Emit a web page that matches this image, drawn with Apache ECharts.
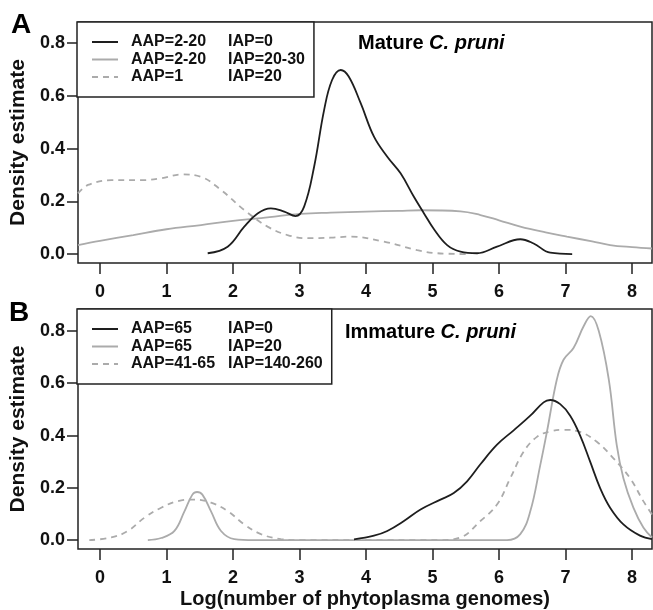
<!DOCTYPE html>
<html><head><meta charset="utf-8">
<script src="https://cdn.jsdelivr.net/npm/echarts@6/dist/echarts.min.js"></script>
<style>html,body{margin:0;padding:0;background:#fff}#c{width:653px;height:610px}</style>
</head><body><div id="c"></div>
<script>
// Panel A: Mature C. pruni
const namesA = ['AAP=2-20|IAP=0', 'AAP=2-20|IAP=20-30', 'AAP=1|IAP=20'];
const xA1 = [1.62,1.92,2.17,2.37,2.57,2.77,2.94,3.07,3.22,3.37,3.49,3.62,3.74,3.92,4.12,4.32,4.52,4.72,4.87,5.02,5.22,5.42,5.67,5.97,6.32,6.52,6.77,7.1];
const yA1 = [0.003,0.028,0.104,0.154,0.173,0.161,0.144,0.18,0.331,0.546,0.66,0.698,0.673,0.572,0.445,0.369,0.306,0.217,0.155,0.095,0.034,0.009,0.003,0.028,0.056,0.04,0.005,0];
const xA2 = [-0.33,0,0.5,1,1.52,2,2.37,3.02,3.47,4,4.5,4.82,5.42,5.72,6,6.32,6.7,7.02,7.4,7.67,8,8.3];
const yA2 = [0.034,0.05,0.072,0.094,0.11,0.126,0.135,0.152,0.157,0.161,0.164,0.166,0.162,0.148,0.128,0.104,0.082,0.066,0.048,0.034,0.026,0.021];
const xA3 = [-0.33,-0.18,0.17,0.62,0.92,1.24,1.52,1.82,2.17,2.52,2.82,3.12,3.47,3.77,4.27,4.77,5.07,5.5];
const yA3 = [0.23,0.262,0.28,0.28,0.287,0.302,0.293,0.243,0.167,0.104,0.072,0.06,0.062,0.066,0.047,0.015,0.003,0];

// Panel B: Immature C. pruni
const namesB = ['AAP=65|IAP=0', 'AAP=65|IAP=20', 'AAP=41-65|IAP=140-260'];
const xB1 = [3.82,4.12,4.32,4.57,4.82,5.12,5.32,5.52,5.72,5.97,6.22,6.47,6.67,6.77,6.92,7.07,7.22,7.37,7.52,7.67,7.87,8.12,8.3];
const yB1 = [0.003,0.017,0.035,0.073,0.117,0.155,0.18,0.225,0.29,0.365,0.42,0.476,0.527,0.536,0.52,0.476,0.40,0.30,0.199,0.124,0.06,0.017,0.004];
const xB2 = [0.72,0.92,1.12,1.27,1.39,1.46,1.54,1.67,1.82,2.02,2.32,3,4,5,6.12,6.32,6.47,6.62,6.72,6.87,6.97,7.12,7.27,7.38,7.5,7.65,7.77,7.87,8.02,8.17,8.3];
const yB2 = [0,0.008,0.035,0.11,0.174,0.184,0.174,0.11,0.035,0.004,0,0,0,0,0,0.023,0.11,0.287,0.414,0.615,0.69,0.735,0.817,0.857,0.80,0.615,0.363,0.237,0.124,0.048,0.01];
const xB3 = [-0.16,0.17,0.42,0.67,0.92,1.17,1.42,1.67,1.92,2.17,2.42,2.72,3.02,4,5.12,5.42,5.72,5.97,6.17,6.37,6.57,6.77,6.97,7.22,7.47,7.72,7.97,8.17,8.3];
const yB3 = [0,0.01,0.035,0.086,0.124,0.149,0.155,0.143,0.111,0.06,0.023,0.004,0,0,0,0.01,0.073,0.136,0.237,0.338,0.395,0.416,0.422,0.414,0.376,0.313,0.237,0.149,0.098];

const xTicks = [0,1,2,3,4,5,6,7,8];
const yTicks = [0,0.2,0.4,0.6,0.8];

const FONT = '"Liberation Sans", Arial, sans-serif';
const BLACK = '#1e1e1e', GREY = '#ababab';
const pairs = (xs, ys) => xs.map((x, i) => [x, ys[i]]);

function xAxisCfg(gi, withName) {
  const a = {
    type: 'value', gridIndex: gi, min: -0.33, max: 8.3, position: 'bottom',
    axisLine: {show: false, onZero: false}, splitLine: {show: false},
    axisTick: {show: true, length: 11, inside: false, customValues: xTicks, lineStyle: {color: '#222', width: 1.5}},
    axisLabel: {customValues: xTicks, margin: 20, fontSize: 18, fontWeight: 'bold', color: '#111', fontFamily: FONT}
  };
  if (withName) {
    a.name = 'Log(number of phytoplasma genomes)';
    a.nameLocation = 'middle';
    a.nameGap = 40;
    a.nameTextStyle = {fontSize: 20, fontWeight: 'bold', color: '#111', fontFamily: FONT};
  }
  return a;
}
function yAxisCfg(gi, max) {
  return {
    type: 'value', gridIndex: gi, min: -0.034, max: max, position: 'left',
    axisLine: {show: false, onZero: false}, splitLine: {show: false},
    axisTick: {show: true, length: 11, inside: false, customValues: yTicks, lineStyle: {color: '#222', width: 1.5}},
    axisLabel: {customValues: yTicks, margin: 13, fontSize: 18, fontWeight: 'bold', color: '#111', fontFamily: FONT,
      formatter: v => v.toFixed(1)},
    name: 'Density estimate', nameLocation: 'middle', nameGap: 49,
    nameTextStyle: {fontSize: 21, fontWeight: 'bold', color: '#111', fontFamily: FONT}
  };
}
function lineSeries(name, data, xi, color, dashed) {
  return {
    type: 'line', name: name, data: data, xAxisIndex: xi, yAxisIndex: xi,
    smooth: 0.4, symbol: 'none', clip: true,
    lineStyle: {color: color, width: 1.8, type: dashed ? [6, 5] : 'solid'},
    itemStyle: {color: color}
  };
}
function legendCfg(names, top) {
  return {
    data: names, orient: 'vertical', left: 77, top: top,
    padding: [12, 9, 12, 14], itemGap: 1.5, itemWidth: 26, itemHeight: 14,
    borderColor: '#222', borderWidth: 1.5, borderRadius: 0, backgroundColor: '#fff',
    selectedMode: false,
    itemStyle: {color: 'transparent', borderColor: 'transparent', borderWidth: 0},
    formatter: n => { const p = n.split('|'); return '{a|' + p[0] + '}{b|' + p[1] + '}'; },
    textStyle: {fontFamily: FONT, fontSize: 16, fontWeight: 'bold', color: '#111', lineHeight: 16,
      rich: {
        a: {fontFamily: FONT, fontSize: 16, fontWeight: 'bold', color: '#111', width: 97, padding: [0, 0, 0, 8]},
        b: {fontFamily: FONT, fontSize: 16, fontWeight: 'bold', color: '#111'}
      }}
  };
}
function titleCfg(text, left, top, size, rich) {
  const t = {text: text, left: left, top: top, padding: 0,
    textStyle: {fontFamily: FONT, fontSize: size, fontWeight: 'bold', color: '#000'}};
  if (rich) t.textStyle.rich = {
    n: {fontFamily: FONT, fontSize: size, fontWeight: 'bold', color: '#000'},
    i: {fontFamily: FONT, fontSize: size, fontWeight: 'bold', fontStyle: 'italic', color: '#000'}
  };
  return t;
}

const chart = echarts.init(document.getElementById('c'), null, {renderer: 'canvas'});
chart.setOption({
  backgroundColor: '#fff',
  animation: false,
  title: [
    titleCfg('A', 11, 11, 28),
    titleCfg('B', 9, 299, 28),
    titleCfg('{n|Mature }{i|C. pruni}', 358, 33, 20, true),
    titleCfg('{n|Immature }{i|C. pruni}', 345, 322, 20, true)
  ],
  grid: [
    {left: 77, top: 22, width: 575, height: 241, show: true, borderColor: '#222', borderWidth: 1.5, backgroundColor: 'transparent'},
    {left: 77, top: 309, width: 575, height: 241, show: true, borderColor: '#222', borderWidth: 1.5, backgroundColor: 'transparent'}
  ],
  xAxis: [xAxisCfg(0, false), xAxisCfg(1, true)],
  yAxis: [yAxisCfg(0, 0.88), yAxisCfg(1, 0.884)],
  legend: [legendCfg(namesA, 22), legendCfg(namesB, 309)],
  series: [
    lineSeries(namesA[1], pairs(xA2, yA2), 0, GREY, false),
    lineSeries(namesA[2], pairs(xA3, yA3), 0, GREY, true),
    lineSeries(namesA[0], pairs(xA1, yA1), 0, BLACK, false),
    lineSeries(namesB[1], pairs(xB2, yB2), 1, GREY, false),
    lineSeries(namesB[2], pairs(xB3, yB3), 1, GREY, true),
    lineSeries(namesB[0], pairs(xB1, yB1), 1, BLACK, false)
  ]
});
</script></body></html>
